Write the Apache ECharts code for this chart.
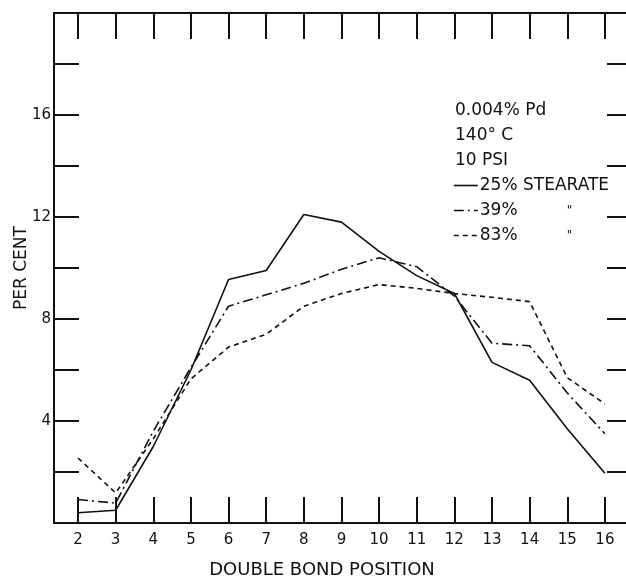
<!DOCTYPE html>
<html>
<head>
<meta charset="utf-8">
<script src="https://cdn.jsdelivr.net/npm/echarts@6/dist/echarts.min.js"></script>
<style>html,body{margin:0;padding:0;background:#fff}#c{width:626px;height:577px}</style>
</head>
<body>
<div id="c"></div>
<script>
const positions = [2, 3, 4, 5, 6, 7, 8, 9, 10, 11, 12, 13, 14, 15, 16];
const stearate25 = [0.4, 0.5, 3.0, 6.0, 9.55, 9.9, 12.1, 11.8, 10.65, 9.7, 9.0, 6.3, 5.6, 3.7, 1.95];
const stearate39 = [0.92, 0.78, 3.6, 6.1, 8.5, 8.95, 9.4, 9.95, 10.4, 10.05, 8.9, 7.05, 6.95, 5.1, 3.5];
const stearate83 = [2.55, 1.18, 3.3, 5.65, 6.9, 7.4, 8.5, 9.0, 9.35, 9.2, 9.0, 8.85, 8.68, 5.7, 4.67];
const yTickLabels = [4, 8, 12, 16];
const seriesNames = ['25% STEARATE', '39%', '83%'];
const notes = ['0.004% Pd', '140° C', '10 PSI'];

const font = 'DejaVu Sans';
const ink = '#111';
function pairs(vals) { return positions.map((p, i) => [p, vals[i]]); }

const chart = echarts.init(document.getElementById('c'), null, {renderer: 'canvas'});
const xCommon = {
  type: 'value', min: 1.362, max: 16.72,
  splitLine: {show: false},
  axisLine: {onZero: false, lineStyle: {color: ink, width: 2}},
  axisTick: {inside: true, length: 26, lineStyle: {color: ink, width: 2}, customValues: positions}
};
const yCommon = {
  type: 'value', min: 0, max: 20, interval: 2,
  splitLine: {show: false},
  axisLine: {show: true, onZero: false, lineStyle: {color: ink, width: 2}},
  axisTick: {show: true, inside: true, length: 25, lineStyle: {color: ink, width: 2}}
};
const lineW = 1.6;
chart.setOption({
  animation: false,
  backgroundColor: '#fff',
  textStyle: {fontFamily: font, color: ink},
  grid: {left: 54, top: 13, right: -6, bottom: 54, containLabel: false, outerBoundsMode: 'none'},
  title: {
    text: notes.join('\n'), left: 455, top: 98, padding: 0,
    textStyle: {fontFamily: font, fontSize: 17, fontWeight: 'normal', color: ink, lineHeight: 25}
  },
  legend: {
    orient: 'vertical', left: 453, top: 177, padding: 0, itemWidth: 24, itemHeight: 14, itemGap: 8,
    data: seriesNames,
    formatter: function (n) { return n === seriesNames[0] ? n : '{a|' + n + '}{b|"}'; },
    itemStyle: {color: 'rgba(0,0,0,0)', borderWidth: 0, opacity: 0},
    textStyle: {
      fontFamily: font, fontSize: 17, color: ink, padding: [0, 0, 0, -3],
      rich: {a: {width: 87, fontFamily: font, fontSize: 17, color: ink}, b: {fontFamily: font, fontSize: 12, color: ink}}
    },
    lineStyle: {width: 1.6}
  },
  xAxis: [
    Object.assign({}, xCommon, {
      position: 'bottom',
      axisLabel: {customValues: positions, color: ink, fontFamily: font, fontSize: 15, margin: 10},
      name: 'DOUBLE BOND POSITION', nameLocation: 'middle', nameGap: 38,
      nameTextStyle: {fontFamily: font, fontSize: 18, color: ink, padding: [0, 42, 0, 0]}
    }),
    Object.assign({}, xCommon, {position: 'top', axisLabel: {show: false}})
  ],
  yAxis: [
    Object.assign({}, yCommon, {
      position: 'left',
      axisLabel: {
        color: ink, fontFamily: font, fontSize: 15, margin: 3,
        formatter: v => yTickLabels.indexOf(v) >= 0 ? String(v) : ''
      },
      name: 'PER CENT', nameLocation: 'middle', nameGap: 24, nameMoveOverlap: false,
      nameTextStyle: {fontFamily: font, fontSize: 17, color: ink}
    }),
    Object.assign({}, yCommon, {position: 'right', axisLabel: {show: false}})
  ],
  series: [
    {name: seriesNames[0], type: 'line', data: pairs(stearate25), symbol: 'none', color: ink,
     lineStyle: {color: ink, width: lineW, type: 'solid'}},
    {name: seriesNames[1], type: 'line', data: pairs(stearate39), symbol: 'none', color: ink,
     lineStyle: {color: ink, width: lineW, type: [10, 4, 2, 4]}},
    {name: seriesNames[2], type: 'line', data: pairs(stearate83), symbol: 'none', color: ink,
     lineStyle: {color: ink, width: lineW, type: [5, 4]}}
  ]
});
</script>
</body>
</html>
